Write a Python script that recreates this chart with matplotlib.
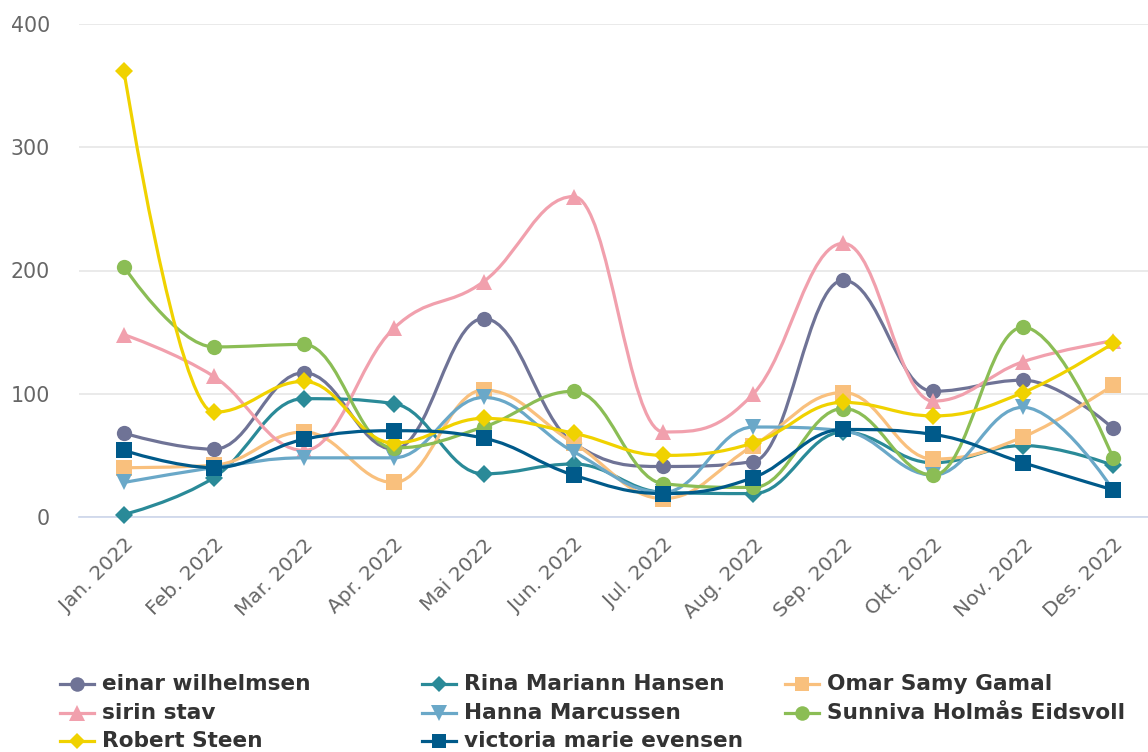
import matplotlib
matplotlib.use("Agg")
import matplotlib.pyplot as plt
from matplotlib.path import Path
from matplotlib.patches import PathPatch
from matplotlib.lines import Line2D
import numpy as np

months = ["Jan. 2022", "Feb. 2022", "Mar. 2022", "Apr. 2022", "Mai 2022", "Jun. 2022",
          "Jul. 2022", "Aug. 2022", "Sep. 2022", "Okt. 2022", "Nov. 2022", "Des. 2022"]

einar = [68, 55, 117, 55, 161, 60, 41, 45, 192, 102, 111, 72]
rina = [2, 32, 96, 92, 35, 43, 20, 19, 69, 44, 58, 42]
omar = [40, 42, 69, 28, 103, 60, 15, 58, 101, 47, 65, 107]
sirin = [148, 114, 54, 153, 191, 260, 69, 100, 222, 94, 126, 143]
hanna = [28, 40, 48, 48, 97, 53, 20, 73, 70, 34, 89, 22]
sunniva = [203, 138, 140, 56, 73, 102, 27, 24, 88, 34, 154, 48]
robert = [362, 85, 110, 60, 80, 68, 50, 60, 93, 82, 101, 141]
victoria = [54, 40, 63, 70, 64, 34, 19, 32, 71, 67, 44, 22]

series_names = ["einar wilhelmsen", "Rina Mariann Hansen", "Omar Samy Gamal",
                "sirin stav", "Hanna Marcussen", "Sunniva Holmås Eidsvoll",
                "Robert Steen", "victoria marie evensen"]
series_values = [einar, rina, omar, sirin, hanna, sunniva, robert, victoria]
series_colors = ["#6f7396", "#2a8a98", "#f9c07d", "#f1a0ad", "#6aa8c8", "#8bbd55",
                 "#f0d200", "#005a8a"]
series_markers = ["o", "D", "s", "^", "v", "o", "D", "s"]
marker_sizes = {"o": 11, "D": 9, "s": 11, "^": 12, "v": 12}

draw_order = ["einar wilhelmsen", "Rina Mariann Hansen", "Omar Samy Gamal", "sirin stav",
              "Hanna Marcussen", "Sunniva Holmås Eidsvoll", "Robert Steen",
              "victoria marie evensen"]


def spline_path(xs, ys, smoothing=1.5):
    n = len(xs)
    denom = smoothing + 1
    lc = [None] * n
    rc = [None] * n
    for i in range(1, n - 1):
        px, py = xs[i], ys[i]
        lx, ly = xs[i - 1], ys[i - 1]
        nx, ny = xs[i + 1], ys[i + 1]
        lcx = (smoothing * px + lx) / denom
        lcy = (smoothing * py + ly) / denom
        rcx = (smoothing * px + nx) / denom
        rcy = (smoothing * py + ny) / denom
        corr = 0
        if rcx != lcx:
            corr = ((rcy - lcy) * (rcx - px)) / (rcx - lcx) + py - rcy
        lcy += corr
        rcy += corr
        if lcy > ly and lcy > py:
            lcy = max(ly, py)
            rcy = 2 * py - lcy
        elif lcy < ly and lcy < py:
            lcy = min(ly, py)
            rcy = 2 * py - lcy
        if rcy > ny and rcy > py:
            rcy = max(ny, py)
            lcy = 2 * py - rcy
        elif rcy < ny and rcy < py:
            rcy = min(ny, py)
            lcy = 2 * py - rcy
        lc[i] = (lcx, lcy)
        rc[i] = (rcx, rcy)
    verts = [(xs[0], ys[0])]
    codes = [Path.MOVETO]
    for i in range(1, n):
        c1 = rc[i - 1] if rc[i - 1] is not None else (xs[i - 1], ys[i - 1])
        c2 = lc[i] if lc[i] is not None else (xs[i], ys[i])
        verts += [c1, c2, (xs[i], ys[i])]
        codes += [Path.CURVE4] * 3
    return Path(verts, codes)


W, H = 1148, 752
fig = plt.figure(figsize=(W / 100, H / 100), dpi=100)
left_px, right_px, top_px, bot_px = 79, 1158, 24, 517
ax = fig.add_axes([left_px / W, 1 - bot_px / H, (right_px - left_px) / W, (bot_px - top_px) / H])
ax.set_xlim(-0.5, 11.5)
ax.set_ylim(0, 400)
for s in ["top", "right", "left"]:
    ax.spines[s].set_visible(False)
ax.spines["bottom"].set_color("#ccd6eb")
ax.spines["bottom"].set_linewidth(1.2)
ax.set_yticks([0, 100, 200, 300, 400])
ax.yaxis.grid(True, color="#e6e6e6", linewidth=1.2)
ax.set_axisbelow(True)
ax.tick_params(axis="y", length=0, pad=21, labelsize=14.8, labelcolor="#666666")
ax.set_xticks(range(len(months)))
ax.set_xticklabels(months, rotation=45, ha="right", va="top", rotation_mode="anchor",
                   fontsize=14.5, color="#666666")
ax.tick_params(axis="x", length=0, pad=13)

xs = list(range(len(months)))
idx = {n: i for i, n in enumerate(series_names)}
for z, name in enumerate(draw_order):
    i = idx[name]
    col = series_colors[i]
    vals = series_values[i]
    p = spline_path(xs, vals)
    ax.add_patch(PathPatch(p, facecolor="none", edgecolor=col, linewidth=2.3,
                           zorder=3 + z * 0.1, capstyle="round", joinstyle="round"))
    m = series_markers[i]
    ax.plot(xs, vals, linestyle="none", marker=m, markersize=marker_sizes[m],
            color=col, markeredgewidth=0, zorder=3.05 + z * 0.1, clip_on=False)

# legend (manual, Highcharts-like layout)
legend_rows = [["einar wilhelmsen", "Rina Mariann Hansen", "Omar Samy Gamal"],
               ["sirin stav", "Hanna Marcussen", "Sunniva Holmås Eidsvoll"],
               ["Robert Steen", "victoria marie evensen"]]
col_x = [60, 422, 785]
row_y = [684, 713, 741]
for r, row in enumerate(legend_rows):
    for c, name in enumerate(row):
        i = idx[name]
        x0 = col_x[c]
        y = row_y[r]
        fy = 1 - y / H
        fig.add_artist(Line2D([x0 / W, (x0 + 34) / W], [fy, fy], color=series_colors[i],
                              linewidth=2.3, transform=fig.transFigure))
        m = series_markers[i]
        fig.add_artist(Line2D([(x0 + 17) / W], [fy], marker=m, markersize=marker_sizes[m] * 0.95,
                              color=series_colors[i], markeredgewidth=0,
                              transform=fig.transFigure))
        fig.text((x0 + 42) / W, fy, name, fontsize=15.6, fontweight="bold",
                 color="#333333", va="center", ha="left")

fig.savefig("out.png", dpi=100, facecolor="white")
